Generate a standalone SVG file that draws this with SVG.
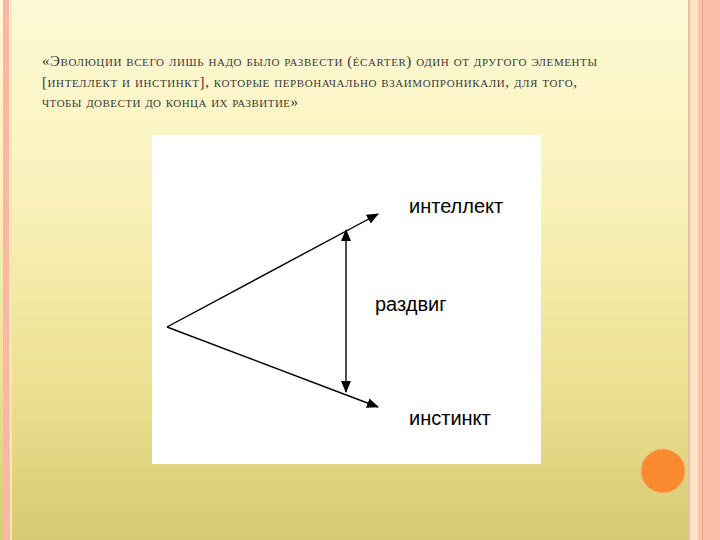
<svg xmlns="http://www.w3.org/2000/svg" width="720" height="540" viewBox="0 0 720 540">
<defs>
<linearGradient id="bg" x1="0" y1="0" x2="0" y2="1">
<stop offset="0" stop-color="#FEF9D6"/>
<stop offset="0.35" stop-color="#FAF2BC"/>
<stop offset="0.7" stop-color="#EEE192"/>
<stop offset="1" stop-color="#D6CA74"/>
</linearGradient>
<marker id="ah" viewBox="0 0 12 10" refX="11" refY="5" markerWidth="12" markerHeight="10" markerUnits="userSpaceOnUse" orient="auto-start-reverse">
<path d="M0,0 L12,5 L0,10 Z" fill="#000"/>
</marker>
<style>
.q{font-family:"Liberation Serif",serif;font-size:15px;font-variant:small-caps;fill:#3a3a3a}
.lbl{font-family:"Liberation Sans",Arial,sans-serif;font-size:20px;fill:#000}
.ln{stroke:#000;stroke-width:1.4;fill:none}
</style>
</defs>
<rect width="720" height="540" fill="url(#bg)"/>
<rect x="3" y="0" width="6" height="540" fill="#F8B8A4"/>
<rect x="10" y="0" width="2" height="540" fill="#F9E6B8"/>
<rect x="688" y="0" width="2" height="540" fill="#E8BFA0"/>
<rect x="690" y="0" width="8" height="540" fill="#FBE3C4"/>
<rect x="698" y="0" width="3" height="540" fill="#F6C3A8"/>
<rect x="701" y="0" width="19" height="540" fill="#FBBFA8"/>
<rect x="702" y="0" width="1" height="540" fill="#E9A088"/>
<g id="quote">
<text class="q" x="42" y="66" textLength="555" lengthAdjust="spacing">«Эволюции всего лишь надо было развести (écarter) один от другого элементы</text>
<text class="q" x="42" y="87" textLength="535" lengthAdjust="spacing">[интеллект и инстинкт], которые первоначально взаимопроникали, для того,</text>
<text class="q" x="42" y="107" textLength="256" lengthAdjust="spacing">чтобы довести до конца их развитие»</text>
</g>
<rect id="panel" x="152" y="135" width="389" height="329" fill="#FFFFFF"/>
<g id="connectors">
<line class="ln" x1="167" y1="327" x2="378" y2="214" marker-end="url(#ah)"/>
<line class="ln" x1="167" y1="327" x2="378" y2="407" marker-end="url(#ah)"/>
<line class="ln" x1="346" y1="230" x2="346" y2="392" stroke-width="2" marker-start="url(#ah)" marker-end="url(#ah)"/>
</g>
<g id="intellect"><text class="lbl" x="409" y="213">интеллект</text></g>
<g id="razdvig"><text class="lbl" x="375" y="311">раздвиг</text></g>
<g id="instinct"><text class="lbl" x="409" y="425">инстинкт</text></g>
<circle cx="663" cy="471" r="22" fill="#F98A30" stroke="#F6B070" stroke-width="1"/>
</svg>
